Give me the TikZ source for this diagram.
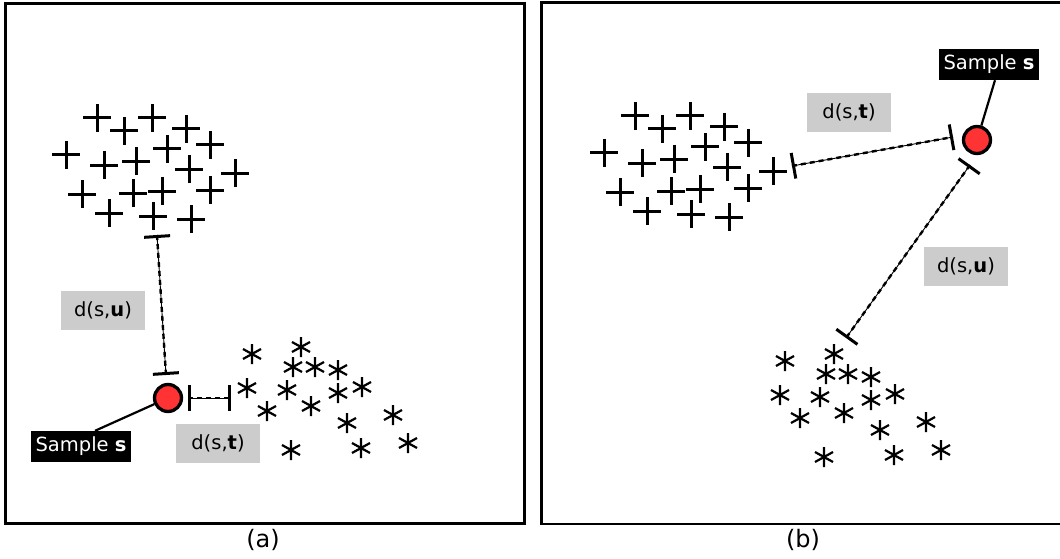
\documentclass[tikz,border=0pt]{standalone}
\usepackage{fontspec}
\setmainfont{DejaVu Sans}
\usetikzlibrary{arrows.meta}
\definecolor{sred}{RGB}{255,51,51}
\definecolor{lgray}{RGB}{204,204,204}
\begin{document}
\begin{tikzpicture}[x=1pt,y=-1pt,
  frame/.style={line width=2.8pt},
  dlabel/.style={fill=lgray, minimum width=84pt, minimum height=39pt, inner sep=0pt, font=\fontsize{19.5}{22}\selectfont},
  slabel/.style={fill=black, text=white, minimum width=100pt, minimum height=31pt, inner sep=0pt, font=\fontsize{19.5}{22}\selectfont},
  sample/.style={circle, draw, line width=3.3pt, fill=sred, minimum size=27pt, inner sep=0pt},
  distline/.style={line width=0.9pt, {Bar[width=26pt,line width=3pt]}-{Bar[width=26pt,line width=3pt]}},
  distdash/.style={line width=2.4pt, dash pattern=on 5pt off 4pt},
  caption/.style={font=\fontsize{24}{28}\selectfont},
  plusm/.pic={\draw[line width=3pt] (-14,0)--(14,0) (0,-14)--(0,14);},
  astm/.pic={\draw[line width=2.2pt] (0,-10)--(0,10) (-9,-5)--(9,5) (-9,5)--(9,-5);}
]
\useasboundingbox (0,0) rectangle (1060,559);
% frames
\draw[frame] (5.5,3.5) rectangle (524.5,523.5);
\draw[frame] (1062,2.5) -| (541.5,524) -- (1062,524);

% ---------- panel (a) ----------
\foreach \p in {(97,118),(124,131),(152,118),(186,129),(66,155),(104,165),(136,161),(167,149),(210,145),(189,169),(235,173),(82,194),(133,193),(162,191),(210,190),(109,213),(153,216),(191,219)}
  \pic at \p {plusm};
\foreach \p in {(252,354),(301,347),(293,367),(315,367),(338,370),(247,388),(287,390),(338,393),(362,387),(267,411),(311,406),(347,423),(393,415),(291,450),(361,448),(408,443)}
  \pic at \p {astm};

\coordinate (au1) at (157,235);
\coordinate (au2) at (166,375);
\coordinate (at1) at (188,398);
\coordinate (at2) at (231,398);
\draw[distline] (au1) -- (au2);
\draw[distdash] (au1) -- (au2);
\draw[distline] (at1) -- (at2);
\draw[distdash] (at1) -- (at2);

\node[slabel] (lsl) at (81,446.5) {Sample \textbf{s}};
\node[sample] (sa) at (168,398) {};
\draw[line width=2.2pt] (lsl.north) ++(14,0) coordinate (lslc) -- (sa);
\node[dlabel] (adu) at (103,310.5) {d(s,\textbf{u})};
\node[dlabel] (adt) at (218,443.5) {d(s,\textbf{t})};
\node[caption] (capa) at (263,540) {(a)};

% ---------- panel (b) ----------
\begin{scope}[shift={(538,-2)}]
\foreach \p in {(97,118),(124,131),(152,118),(186,129),(66,155),(104,165),(136,161),(167,149),(210,145),(189,169),(235,173),(82,194),(133,193),(162,191),(210,190),(109,213),(153,216),(191,219)}
  \pic at \p {plusm};
\end{scope}
\begin{scope}[shift={(533,7)}]
\foreach \p in {(252,354),(301,347),(293,367),(315,367),(338,370),(247,388),(287,390),(338,393),(362,387),(267,411),(311,406),(347,423),(393,415),(291,450),(361,448),(408,443)}
  \pic at \p {astm};
\end{scope}

\coordinate (bt1) at (792,166);
\coordinate (bt2) at (953,137);
\coordinate (bu1) at (970,165);
\coordinate (bu2) at (846,338);
\draw[distline] (bt1) -- (bt2);
\draw[distdash] (bt1) -- (bt2);
\draw[distline] (bu1) -- (bu2);
\draw[distdash] (bu1) -- (bu2);

\node[slabel] (rsl) at (989,64.5) {Sample \textbf{s}};
\node[sample] (sb) at (977,140) {};
\draw[line width=2.2pt] (rsl.south) ++(6,0) coordinate (rslc) -- (sb);
\node[dlabel] (bdt) at (849,112.5) {d(s,\textbf{t})};
\node[dlabel] (bdu) at (966,266.5) {d(s,\textbf{u})};
\node[caption] (capb) at (803,540) {(b)};
\end{tikzpicture}
\end{document}
